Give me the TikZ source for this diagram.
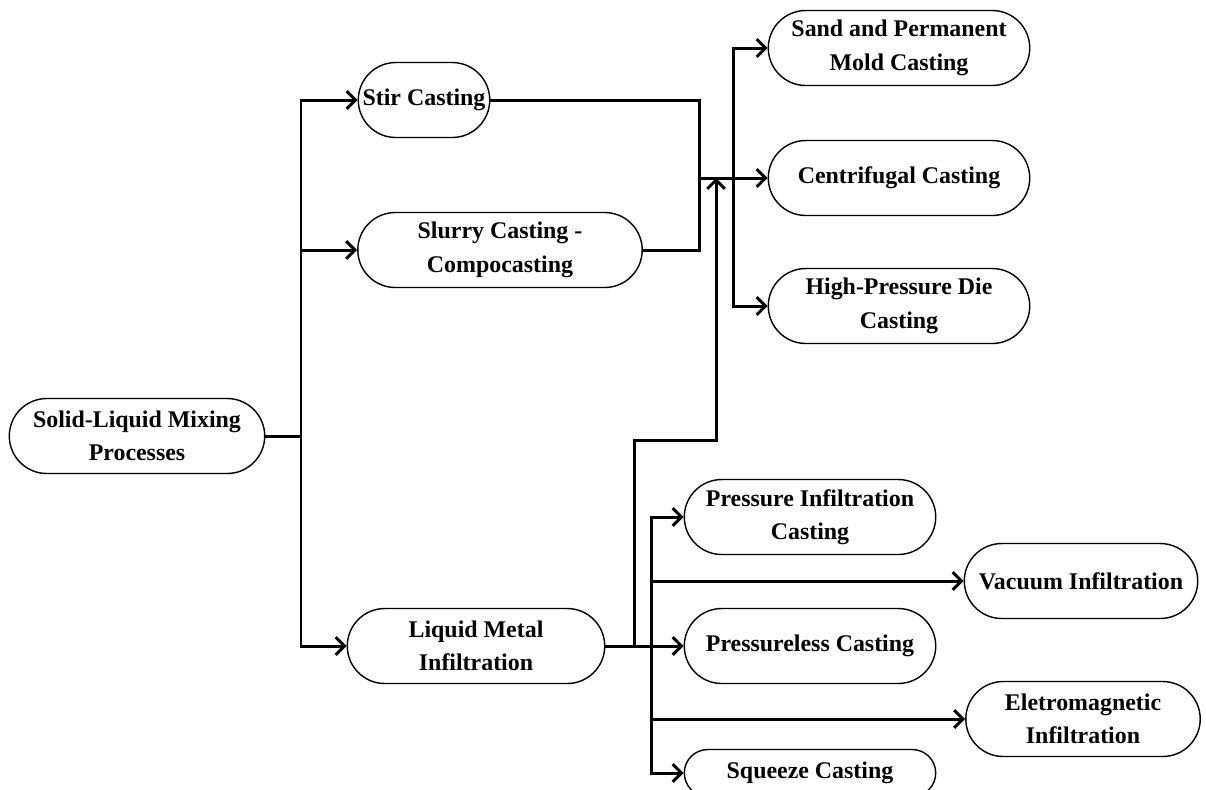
\documentclass[tikz,border=0pt]{standalone}
\usepackage{fontspec}
\setmainfont{Liberation Serif}
\usetikzlibrary{shapes.misc,arrows.meta}

\begin{document}
\begin{tikzpicture}[x=0.02cm,y=-0.02cm,>={Straight Barb[length=5pt,width=10pt]}]
\tikzstyle{every node}=[font=\bfseries\fontsize{13.6}{19}\selectfont]
\tikzstyle{proc}=[draw,rounded rectangle,line width=0.8pt,align=center,minimum height=1.5cm,inner sep=1pt]
\tikzstyle{link}=[line width=1.7pt]

% page size, the last box is cut at the bottom
\useasboundingbox (0,0) rectangle (1206,789);
\clip (0,0) rectangle (1206,789);

% source and first level
\node[proc,minimum width=5.18cm] (slm) at (137,436) {Solid-Liquid Mixing\\Processes};
\node[proc,minimum width=2.7cm] (stir) at (424,100) {Stir Casting};
\node[proc,minimum width=5.76cm] (slurry) at (500,250) {Slurry Casting -\\Compocasting};
\node[proc,minimum width=5.22cm] (lmi) at (476,646) {Liquid Metal\\Infiltration};

% casting routes
\node[proc,minimum width=5.3cm] (sand) at (899,48) {Sand and Permanent\\Mold Casting};
\node[proc,minimum width=5.3cm] (centri) at (899,178) {Centrifugal Casting};
\node[proc,minimum width=5.3cm] (hpdc) at (899,306) {High-Pressure Die\\Casting};

% infiltration routes
\node[proc,minimum width=5.1cm] (pic) at (810,517) {Pressure Infiltration\\Casting};
\node[proc,minimum width=4.74cm] (vac) at (1081,581) {Vacuum Infiltration};
\node[proc,minimum width=5.1cm] (pless) at (810,646) {Pressureless Casting};
\node[proc,minimum width=4.76cm] (emi) at (1083,719) {Eletromagnetic\\Infiltration};
\node[proc,minimum width=5.1cm,minimum height=0.94cm] (sqz) at (810,773) {Squeeze Casting};

% junctions
\coordinate (trunk) at (301,436);
\coordinate (mix) at (699,178);
\coordinate (split) at (733,178);
\coordinate (lup) at (634,646);
\coordinate (hit) at (716,178);
\coordinate (dist) at (651,646);

% first level
\draw[link] (slm.east) -- (trunk);
\draw[link,->] (trunk) |- (stir.west);
\draw[link,->] (trunk) |- (slurry.west);
\draw[link,->] (trunk) |- (lmi.west);

% into the casting routes
\draw[link] (stir.east) -| (mix);
\draw[link] (slurry.east) -| (mix);
\draw[link,->] (mix) -- (centri.west);
\draw[link,->] (split) |- (sand.west);
\draw[link,->] (split) |- (hpdc.west);
\draw[link,->] (lup) -- (634,440) -| (hit);

% infiltration routes
\draw[link,->] (lmi.east) -- (pless.west);
\draw[link,->] (dist) |- (pic.west);
\draw[link,->] (dist) |- (vac.west);
\draw[link,->] (dist) |- (emi.west);
\draw[link,->] (dist) |- (sqz.west);

\end{tikzpicture}
\end{document}
